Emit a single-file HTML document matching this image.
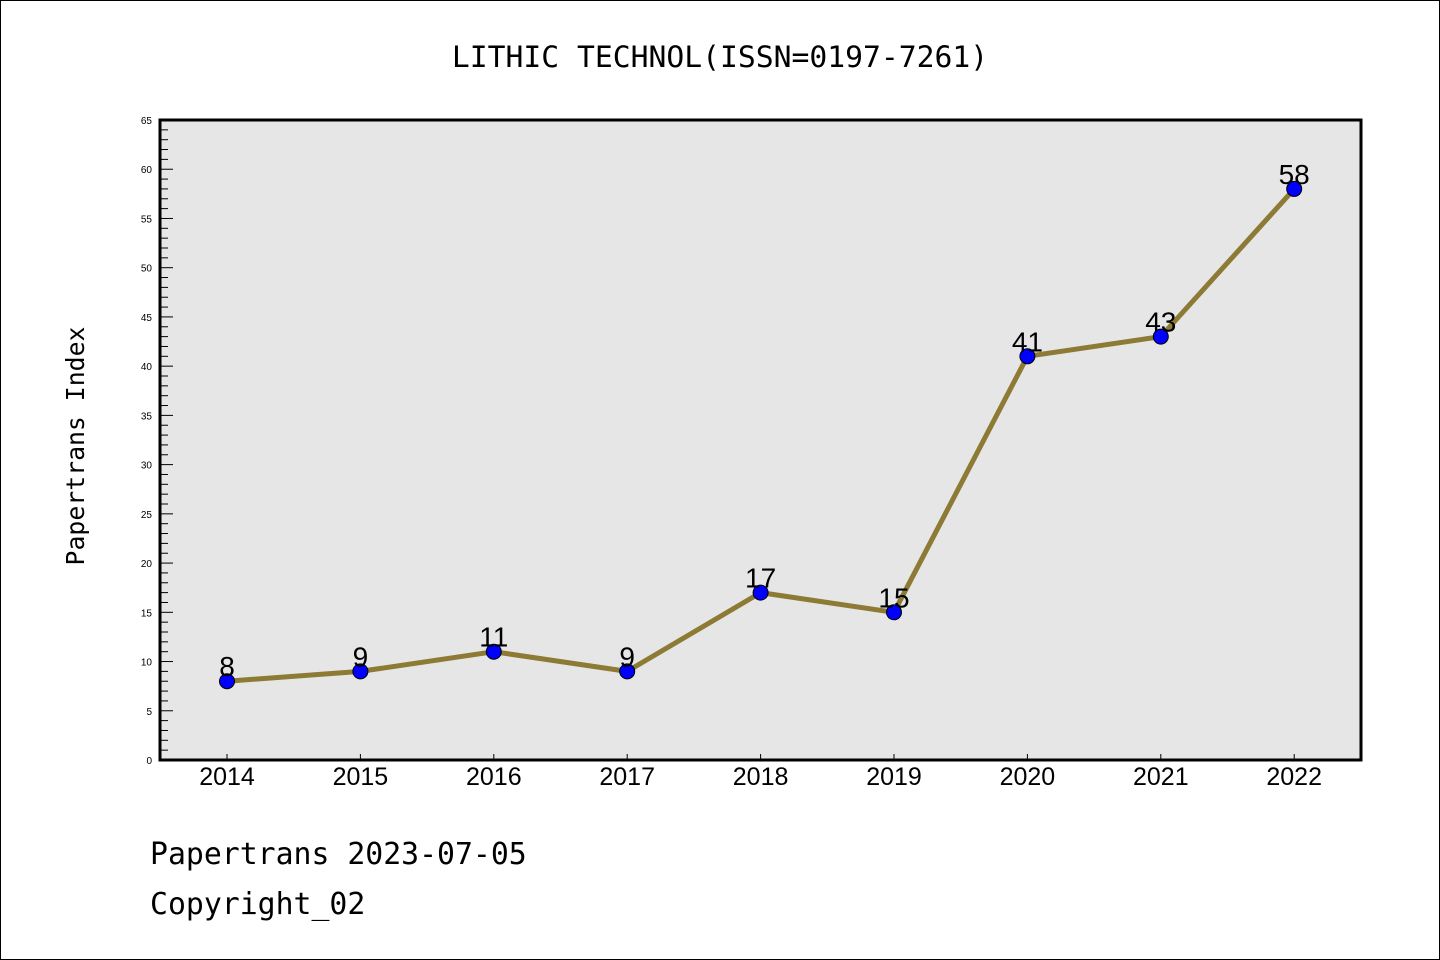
<!DOCTYPE html>
<html><head><meta charset="utf-8"><style>
body{margin:0;background:#fff}
svg{display:block}
text{font-family:"Liberation Sans","DejaVu Sans",sans-serif}
text.mono{font-family:"DejaVu Sans Mono","Liberation Mono",monospace}
</style></head><body>
<svg width="1440" height="960">
<rect x="0.5" y="0.5" width="1439" height="959" fill="#fff" stroke="#000"/>
<text class="mono" x="720" y="67" text-anchor="middle" font-size="29.7">LITHIC TECHNOL(ISSN=0197-7261)</text>
<rect x="160" y="120" width="1201" height="640" fill="#e6e6e6"/>
<g id="yaxis"></g><g id="xaxis"></g><g id="series"></g>
<rect x="160" y="120" width="1201" height="640" fill="none" stroke="#000" stroke-width="3"/>
<text class="mono" transform="translate(84,446) rotate(-90)" text-anchor="middle" font-size="24.8">Papertrans Index</text>
<text class="mono" x="150" y="864" font-size="29.8">Papertrans 2023-07-05</text>
<text class="mono" x="150" y="914" font-size="29.8">Copyright_02</text>
</svg>
<script>
const years=["2014","2015","2016","2017","2018","2019","2020","2021","2022"];
const values=[8,9,11,9,17,15,41,43,58];
const yTicks=[0,5,10,15,20,25,30,35,40,45,50,55,60,65];
const NS="http://www.w3.org/2000/svg";
const y=v=>760-v*(640/65);
const x=i=>227+i*133.4;
function mk(t,a,p){const e=document.createElementNS(NS,t);for(const k in a)e.setAttribute(k,a[k]);p.appendChild(e);return e;}
const ya=document.getElementById('yaxis');
for(let v=0;v<=65;v++){const major=v%5===0;const l=mk('line',{x1:160,x2:major?173:168,y1:y(v),y2:y(v),stroke:'#000','stroke-width':1},ya);

}
yTicks.forEach(v=>{const t=mk('text',{x:152,y:y(v)+4,'text-anchor':'end','font-size':10},ya);t.textContent=v;

});
const xa=document.getElementById('xaxis');
years.forEach((yr,i)=>{const l=mk('line',{x1:x(i),x2:x(i),y1:760,y2:754,stroke:'#000'},xa);


const t=mk('text',{x:x(i),y:785,'text-anchor':'middle','font-size':25},xa);t.textContent=yr;

});
const s=document.getElementById('series');
const pl=mk('polyline',{points:values.map((v,i)=>x(i)+','+y(v)).join(' '),fill:'none',stroke:'#8c7a35','stroke-width':5,'stroke-linejoin':'round'},s);


values.forEach((v,i)=>{const c=mk('circle',{cx:x(i),cy:y(v),r:7.5,fill:'#0000ff',stroke:'#000','stroke-width':1},s);


const t=mk('text',{x:x(i),y:y(v)-5,'text-anchor':'middle','font-size':28},s);t.textContent=v;

});
</script>
</body></html>
